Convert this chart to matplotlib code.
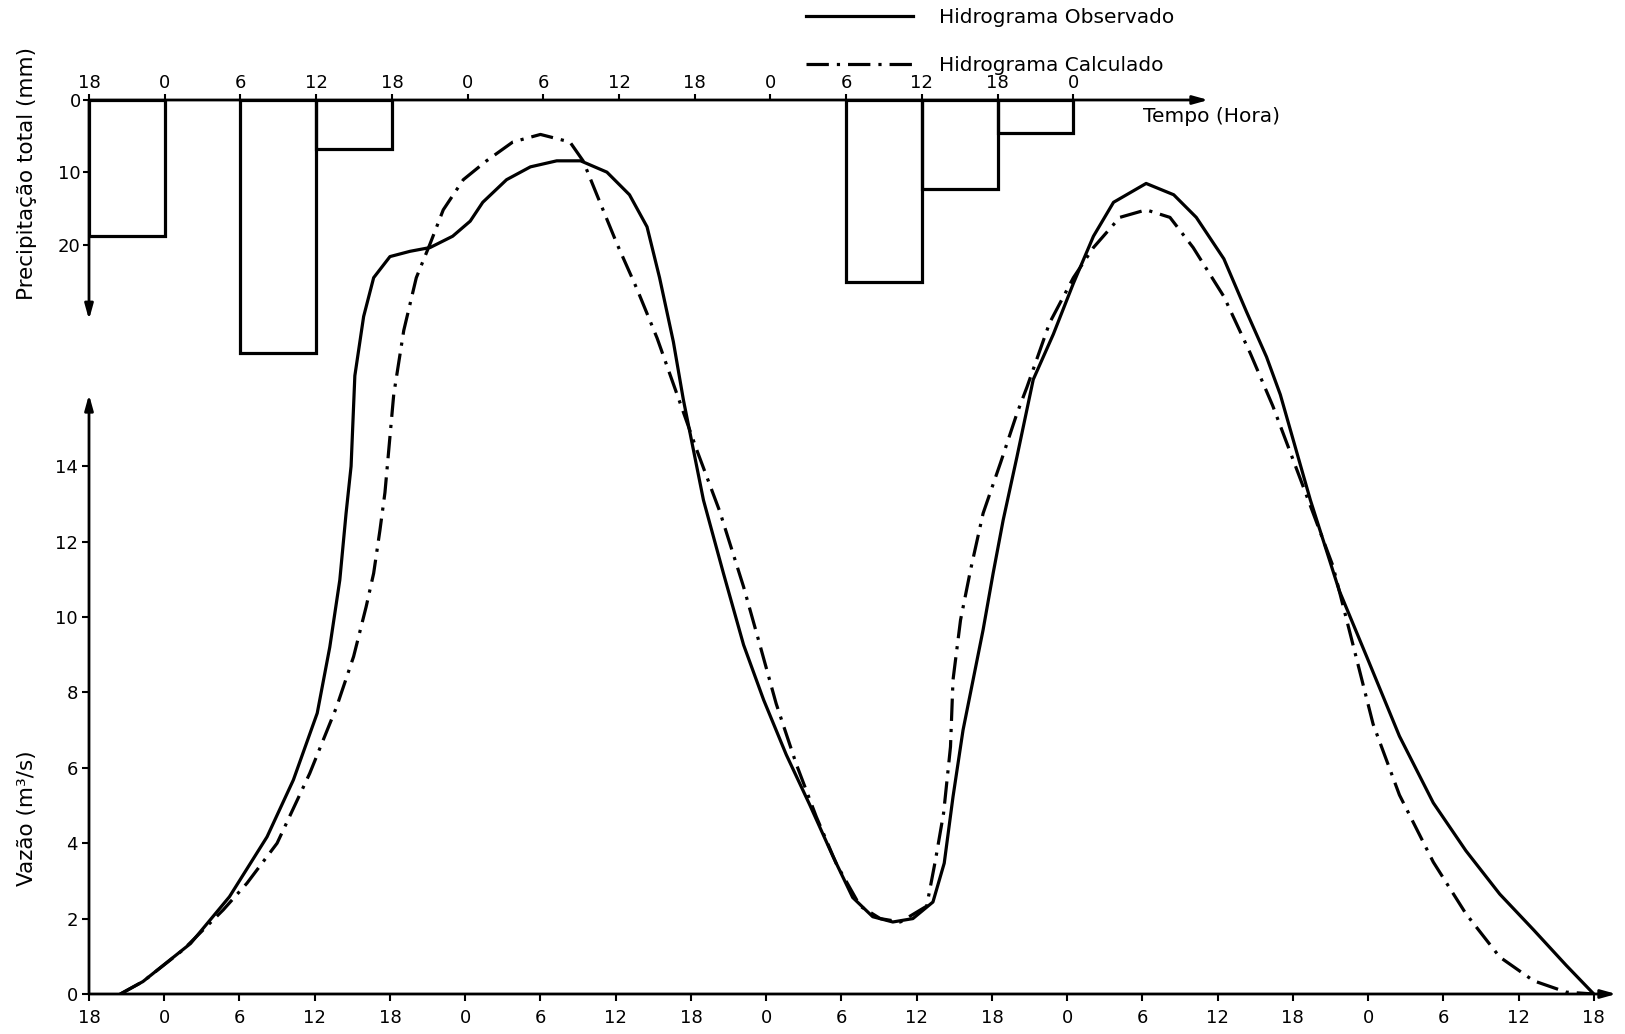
import numpy as np
import matplotlib.pyplot as plt
from matplotlib.lines import Line2D

# time axis: hours counted from the first "18 h" mark
hours = np.arange(0, 121, 6)
hour_labels = [str((18 + h) % 24) for h in hours]
top_hours = hours[hours <= 78]
top_labels = [str((18 + h) % 24) for h in top_hours]

# rainfall blocks (start hour, depth in mm), 6 h each
rain_start = [0, 12, 18, 60, 66, 72]
rain_mm = [18.7, 34.9, 6.7, 25.1, 12.3, 4.5]

# observed hydrograph (m3/s)
obs_t = [2.5, 4.3, 8.1, 11.2, 14.2, 16.3, 18.2, 19.2, 20.0, 20.5, 20.9, 21.2,
         21.9, 22.7, 24.0, 25.6, 27.2, 29.0, 30.4, 31.4, 33.3, 35.2, 37.3, 39.2,
         41.3, 43.1, 44.5, 45.5, 46.6, 47.4, 49.0, 50.6, 52.2, 53.8, 55.6, 57.5,
         59.3, 60.9, 62.5, 64.1, 65.7, 67.3, 68.2, 68.9, 69.7, 70.5, 71.3, 72.1,
         72.9, 74.0, 75.3, 76.9, 78.5, 80.1, 81.7, 84.3, 86.5, 88.3, 90.5, 92.3,
         93.9, 95.0, 97.4, 99.7, 101.9, 104.5, 107.2, 109.8, 112.5, 115.2, 117.8, 120.0]
obs_q = [0.0, 0.33, 1.34, 2.58, 4.17, 5.68, 7.45, 9.2, 10.98, 12.75, 14.0, 16.4,
         17.97, 19.0, 19.56, 19.7, 19.8, 20.1, 20.5, 21.0, 21.6, 21.94, 22.1, 22.1,
         21.8, 21.2, 20.35, 19.0, 17.3, 15.76, 13.1, 11.15, 9.26, 7.8, 6.35, 5.0,
         3.67, 2.56, 2.05, 1.91, 2.0, 2.44, 3.47, 5.23, 7.0, 8.33, 9.66, 11.16,
         12.57, 14.25, 16.3, 17.5, 18.85, 20.1, 21.0, 21.5, 21.2, 20.6, 19.5, 18.1,
         16.9, 15.9, 13.1, 10.7, 8.94, 6.84, 5.07, 3.8, 2.65, 1.7, 0.76, 0.0]

# calculated hydrograph (m3/s)
calc_t = [2.5, 4.3, 7.5, 10.7, 12.6, 15.0, 17.6, 19.75, 21.1, 22.1, 22.7, 23.2,
          23.6, 24.3, 25.1, 26.1, 27.2, 28.25, 29.85, 31.7, 33.8, 36.0, 38.35, 39.4,
          40.5, 42.1, 43.7, 45.3, 46.9, 48.5, 50.3, 52.2, 53.5, 54.8, 56.4, 58.0,
          59.6, 61.5, 63.1, 64.7, 66.8, 67.5, 68.15, 68.7, 68.9, 69.5, 70.3, 71.3,
          72.7, 74.0, 74.8, 76.6, 78.5, 80.1, 82.2, 84.3, 86.2, 88.05, 90.5, 92.6, 94.4,
          96.6, 99.2, 100.8, 102.4, 104.5, 107.2, 109.8, 112.5, 115.2, 117.8, 120.0]
calc_q = [0.0, 0.33, 1.17, 2.23, 2.94, 4.0, 5.85, 7.62, 8.95, 10.27, 11.16, 12.3,
          13.3, 15.9, 17.6, 19.0, 19.9, 20.8, 21.6, 22.1, 22.6, 22.8, 22.6, 22.1,
          21.2, 19.9, 18.7, 17.4, 15.9, 14.4, 12.8, 10.8, 9.26, 7.7, 6.1, 4.7,
          3.45, 2.33, 2.0, 1.91, 2.33, 3.55, 4.8, 6.56, 8.33, 9.92, 11.25, 12.75,
          14.1, 15.4, 16.1, 17.8, 19.0, 19.8, 20.6, 20.8, 20.6, 19.8, 18.5, 17.0, 15.6,
          13.66, 11.35, 9.26, 7.16, 5.28, 3.5, 2.13, 0.98, 0.35, 0.05, 0.0]

W, H = 1625, 1034
fig = plt.figure(figsize=(W / 100, H / 100), dpi=100)

arrow = dict(arrowstyle='-|>,head_length=0.9,head_width=0.25', lw=2, color='k',
             shrinkA=0, shrinkB=0)
dashdot = (0, (7, 2.5, 1, 2.5))

# ---- flow axes (whole figure height, 0 at the bottom axis) ----
ax = fig.add_axes([89 / W, 40 / H, 1530 / W, 994 / H])
ax.set_xlim(0, 1530 / 12.54)
ax.set_ylim(0, 994 / 37.7)
for s in ax.spines.values():
    s.set_visible(False)
ax.plot(obs_t, obs_q, color='k', lw=2.3, solid_joinstyle='round')
ax.plot(calc_t, calc_q, color='k', lw=2.3, linestyle=dashdot)
ax.set_xticks(hours)
ax.set_xticklabels(hour_labels)
ax.set_yticks(range(0, 15, 2))
ax.tick_params(axis='both', direction='out', length=5, width=1.5, labelsize=13)
ax.tick_params(axis='x', pad=6)
ax.tick_params(axis='y', pad=3)
ax.annotate('', xy=(121.8, 0), xytext=(0, 0), arrowprops=arrow, annotation_clip=False)
ax.annotate('', xy=(0, 15.9), xytext=(0, 0), arrowprops=arrow, annotation_clip=False)

# ---- precipitation axes (inverted, on top) ----
ph = 7.25 * 36
axp = fig.add_axes([89 / W, (H - 100 - ph) / H, 1126 / W, ph / H])
axp.set_xlim(0, 1126 / 12.62)
axp.set_ylim(36, 0)
axp.patch.set_alpha(0)
for s in axp.spines.values():
    s.set_visible(False)
axp.bar(rain_start, rain_mm, width=6, align='edge', fill=False, edgecolor='k', lw=2.3)
axp.xaxis.tick_top()
axp.set_xticks(top_hours)
axp.set_xticklabels(top_labels)
axp.set_yticks([0, 10, 20])
axp.tick_params(axis='both', direction='out', length=4, width=1.5, labelsize=13)
axp.tick_params(axis='x', pad=2)
axp.tick_params(axis='y', pad=2)
axp.annotate('', xy=(88.7, 0), xytext=(0, 0), arrowprops=arrow, annotation_clip=False)
axp.annotate('', xy=(0, 30.3), xytext=(0, 0), arrowprops=arrow, annotation_clip=False)

# ---- labels ----
fig.text(27 / W, 1 - 300 / H, 'Precipitação total (mm)', rotation=90,
         ha='center', va='bottom', fontsize=15.5)
fig.text(27 / W, 1 - 818 / H, 'Vazão (m³/s)', rotation=90,
         ha='center', va='center', fontsize=15.5)
fig.text(1143 / W, 1 - 116 / H, 'Tempo (Hora)', ha='left', va='center', fontsize=14.5)

handles = [Line2D([], [], color='k', lw=2.3),
           Line2D([], [], color='k', lw=2.3, linestyle=dashdot)]
fig.legend(handles, ['Hidrograma Observado', 'Hidrograma Calculado'],
           loc='upper left', bbox_to_anchor=(806 / W, 1 - 8 / H), frameon=False,
           fontsize=14.5, handlelength=5.3, handletextpad=1.3, labelspacing=1.45,
           borderpad=0, borderaxespad=0)

fig.savefig('out.png', dpi=100)
